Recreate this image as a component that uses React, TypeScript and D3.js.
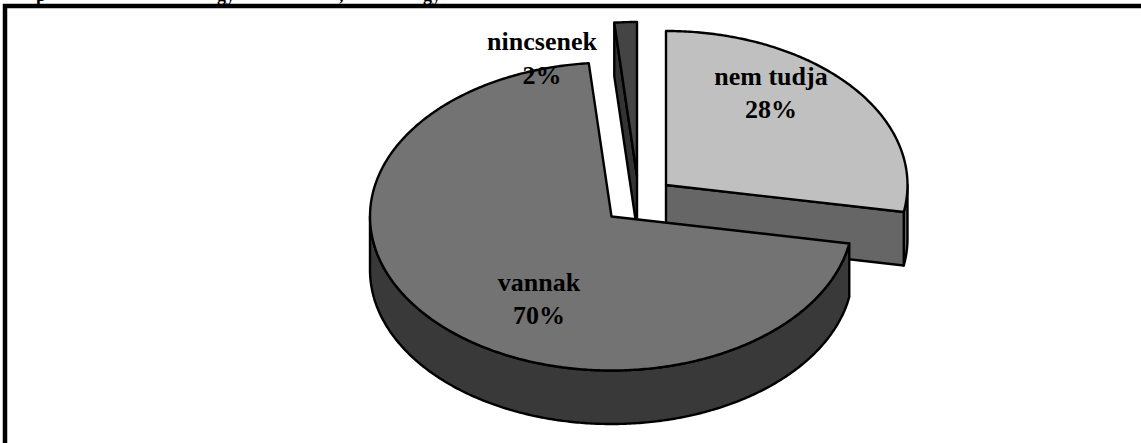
import React from "react";
import * as d3 from "d3";

const categories = ["nem tudja", "vannak", "nincsenek"];
const sliceValues = [27.8, 70.7, 1.5];
const percentLabels = ["28%", "70%", "2%"];
const titleFragments = ["p", "gy", ",", "gy"];

const W = 1141, H = 443;
const RX = 241.5, RY = 154, DEPTH = 53.5;
const centers = [
  { x: 666, y: 185 },
  { x: 611.5, y: 216.5 },
  { x: 637, y: 176 },
];
const topFills = ["#c0c0c0", "#737373", "#444444"];
const wallFills = ["#666666", "#393939", "#333333"];
const labelPos = [
  { x: 771, y: 85, y2: 118 },
  { x: 539, y: 291, y2: 324 },
  { x: 542, y: 50, y2: 84 },
];
const titleX = [36, 217, 339, 423];

const pieGen = d3.pie<number>().sort(null).startAngle(0).endAngle(2 * Math.PI);
const arcs = pieGen(sliceValues);
const line = d3.line<[number, number]>().x((d) => d[0]).y((d) => d[1]);

function pt(i: number, a: number, dz = 0): [number, number] {
  const c = centers[i];
  const sx = d3.scaleLinear().domain([-1, 1]).range([c.x - RX, c.x + RX]);
  const sy = d3.scaleLinear().domain([-1, 1]).range([c.y - RY + dz, c.y + RY + dz]);
  return [sx(Math.sin(a)), sy(-Math.cos(a))];
}
function arcPts(i: number, a0: number, a1: number, dz = 0): [number, number][] {
  const n = Math.max(2, Math.ceil(Math.abs(a1 - a0) / 0.01));
  return d3.range(n + 1).map((k) => pt(i, a0 + ((a1 - a0) * k) / n, dz));
}
const closed = (p: [number, number][]) => line(p) + "Z";
const apex = (i: number, dz = 0): [number, number] => [centers[i].x, centers[i].y + dz];

export default function App() {
  const [nem, van, nin] = arcs;
  const shapes = [
    // nincsenek
    { d: closed([apex(2), pt(2, nin.startAngle), pt(2, nin.startAngle, DEPTH), apex(2, DEPTH)]), fill: wallFills[2] },
    { d: closed([apex(2), ...arcPts(2, nin.startAngle, nin.endAngle)]), fill: topFills[2] },
    // nem tudja
    { d: closed([...arcPts(0, Math.PI / 2, nem.endAngle), ...arcPts(0, nem.endAngle, Math.PI / 2, DEPTH)]), fill: wallFills[0] },
    { d: closed([apex(0), pt(0, nem.endAngle), pt(0, nem.endAngle, DEPTH), apex(0, DEPTH)]), fill: wallFills[0] },
    { d: closed([apex(0), ...arcPts(0, nem.startAngle, nem.endAngle)]), fill: topFills[0] },
    // vannak
    { d: closed([...arcPts(1, van.startAngle, 1.5 * Math.PI), ...arcPts(1, 1.5 * Math.PI, van.startAngle, DEPTH)]), fill: wallFills[1] },
    { d: closed([apex(1), ...arcPts(1, van.startAngle, van.endAngle)]), fill: topFills[1] },
  ];
  return (
    <svg
      width={W}
      height={H}
      viewBox={`0 0 ${W} ${H}`}
      style={{ position: "absolute", left: 0, top: 0, background: "#fff", display: "block" }}
      fontFamily="'Liberation Serif', serif"
    >
      {titleFragments.map((t, i) => (
        <text key={i} x={titleX[i]} y={0.5} fontSize={18} fontWeight="bold" fill="#000">{t}</text>
      ))}
      <path d={`M5,${H}V6H${W}`} fill="none" stroke="#000" strokeWidth={4.5} />
      {shapes.map((s, i) => (
        <path key={i} d={s.d} fill={s.fill} stroke="#000" strokeWidth={2.4} strokeLinejoin="round" />
      ))}
      {categories.map((c, i) => (
        <text key={c} textAnchor="middle" fontSize={26} fontWeight="bold" fill="#000">
          <tspan x={labelPos[i].x} y={labelPos[i].y}>{c}</tspan>
          <tspan x={labelPos[i].x} y={labelPos[i].y2}>{percentLabels[i]}</tspan>
        </text>
      ))}
    </svg>
  );
}
